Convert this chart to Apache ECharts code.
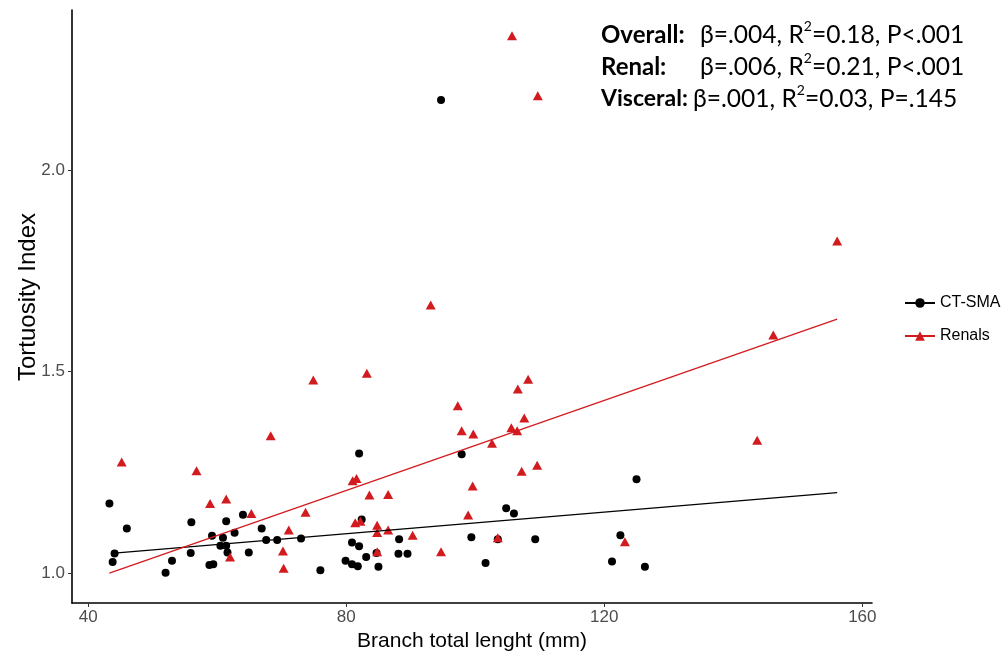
<!DOCTYPE html>
<html>
<head>
<meta charset="utf-8">
<script src="https://cdn.jsdelivr.net/npm/echarts@6/dist/echarts.min.js"></script>
<style>
  html, body { margin: 0; padding: 0; background: #fff; }
  #chart { width: 1006px; height: 656px; }
</style>
</head>
<body>
<div id="chart"></div>
<script>
// CT-SMA points (branch length mm, tortuosity index)
const smaX = [43.3, 46.0, 44.1, 43.8, 52.0, 53.0, 56.0, 55.9, 58.8, 59.4, 59.2, 60.9, 60.5, 61.4, 61.4, 61.6, 62.7,
  64.0, 64.9, 66.9, 67.6, 69.3, 73.0, 76.0, 79.9, 80.9, 80.9, 81.8, 82.0, 82.0, 82.4, 83.1, 84.7, 85.0, 88.2,
  88.1, 89.5, 94.7, 97.9, 99.4, 101.6, 103.5, 104.8, 106.0, 109.3, 121.2, 122.5, 125.0, 126.3];
const smaY = [1.173, 1.111, 1.049, 1.028, 1.001, 1.031, 1.126, 1.050, 1.020, 1.022, 1.093, 1.088, 1.068, 1.129, 1.068,
  1.051, 1.100, 1.145, 1.051, 1.111, 1.082, 1.082, 1.086, 1.007, 1.031, 1.076, 1.022, 1.017, 1.067, 1.297, 1.133,
  1.040, 1.050, 1.016, 1.084, 1.048, 1.048, 2.174, 1.295, 1.089, 1.025, 1.084, 1.161, 1.148, 1.084, 1.029, 1.094,
  1.233, 1.016];

// Renal points
const renalX = [45.2, 56.8, 58.9, 61.4, 62.0, 65.3, 68.3, 70.2, 70.3, 71.1, 73.7, 74.9, 81.0, 81.6, 81.4, 82.2, 83.2,
  83.6, 84.8, 84.8, 84.8, 86.5, 86.5, 90.3, 93.1, 94.7, 97.3, 97.9, 99.7, 99.6, 98.9, 102.6, 105.7, 103.5, 105.6,
  106.5, 106.6, 107.6, 108.2, 107.2, 109.6, 109.7, 123.2, 143.7, 146.2, 156.1];
const renalY = [1.276, 1.254, 1.173, 1.184, 1.040, 1.148, 1.341, 1.055, 1.012, 1.107, 1.151, 1.479, 1.229, 1.235, 1.125,
  1.129, 1.496, 1.194, 1.119, 1.101, 1.053, 1.195, 1.107, 1.094, 1.665, 1.053, 1.415, 1.353, 1.345, 1.216, 1.144,
  1.322, 2.333, 1.088, 1.361, 1.353, 1.457, 1.385, 1.481, 1.253, 1.268, 2.184, 1.078, 1.330, 1.591, 1.824];

// fitted lines, end points
const smaFitX = [43.6, 156.1];
const smaFitY = [1.049, 1.200];
const renalFitX = [43.3, 156.1];
const renalFitY = [1.000, 1.630];

const xTicks = [40, 80, 120, 160];
const yTicks = [1.0, 1.5, 2.0];

const RED = '#D21B1F';
const FONT = 'Liberation Sans';

const pairs = (xs, ys) => xs.map((x, i) => [x, ys[i]]);

const supRich = { s: { fontSize: 14, fontFamily: 'Lato', verticalAlign: 'top', lineHeight: 18 } };

const chart = echarts.init(document.getElementById('chart'));
chart.setOption({
  animation: false,
  backgroundColor: '#fff',
  grid: { left: 72, right: 134, top: 10, bottom: 53, outerBoundsMode: 'none' },
  legend: {
    orient: 'vertical',
    left: 899,
    top: 290,
    itemWidth: 30,
    itemHeight: 12,
    itemGap: 17,
    data: ['CT-SMA', 'Renals'],
    textStyle: { fontFamily: FONT, fontSize: 16, color: '#000' }
  },
  xAxis: {
    type: 'value',
    min: 37.5,
    max: 161.5,
    name: 'Branch total lenght (mm)',
    nameLocation: 'middle',
    nameGap: 24,
    nameTextStyle: { fontFamily: FONT, fontSize: 21, color: '#000' },
    splitLine: { show: false },
    axisLine: { lineStyle: { color: '#000', width: 1.6 } },
    axisTick: { length: 4, lineStyle: { color: '#333' }, customValues: xTicks },
    axisLabel: { fontFamily: FONT, fontSize: 17, color: '#4D4D4D', margin: 6, customValues: xTicks }
  },
  yAxis: {
    type: 'value',
    min: 0.926,
    max: 2.397,
    splitLine: { show: false },
    axisLine: { show: true, lineStyle: { color: '#000', width: 1.6 } },
    axisTick: { show: true, length: 4, lineStyle: { color: '#333' }, customValues: yTicks },
    axisLabel: {
      fontFamily: FONT, fontSize: 17, color: '#4D4D4D', margin: 7, customValues: yTicks,
      formatter: v => v.toFixed(1)
    }
  },
  graphic: [
    {
      // y axis title
      type: 'text', x: 28, y: 297, rotation: Math.PI / 2,
      style: { text: 'Tortuosity Index', font: '24px "Liberation Sans"', fill: '#000', align: 'center', verticalAlign: 'middle' }
    },
    { type: 'text', left: 601, top: 23, style: { text: 'Overall:', font: 'bold 24px Lato', fill: '#000' } },
    { type: 'text', left: 601, top: 55, style: { text: 'Renal:', font: 'bold 24px Lato', fill: '#000' } },
    { type: 'text', left: 601, top: 87, style: { text: 'Visceral:', font: 'bold 23px Lato', fill: '#000' } },
    {
      type: 'text', left: 700, top: 19,
      style: { text: 'β=.004, R{s|2}=0.18, P<.001', font: '24.6px Lato', fill: '#000', lineHeight: 32, rich: supRich }
    },
    {
      type: 'text', left: 700, top: 51,
      style: { text: 'β=.006, R{s|2}=0.21, P<.001', font: '24.6px Lato', fill: '#000', lineHeight: 32, rich: supRich }
    },
    {
      type: 'text', left: 693, top: 83,
      style: { text: 'β=.001, R{s|2}=0.03, P=.145', font: '24.6px Lato', fill: '#000', lineHeight: 32, rich: supRich }
    }
  ],
  series: [
    {
      name: 'CT-SMA', type: 'line', data: pairs(smaFitX, smaFitY),
      symbol: 'circle', symbolSize: 8, showSymbol: false, silent: true,
      lineStyle: { color: '#000', width: 1.3 }, itemStyle: { color: '#000' }, z: 3
    },
    {
      name: 'Renals', type: 'line', data: pairs(renalFitX, renalFitY),
      symbol: 'triangle', symbolSize: 10, showSymbol: false, silent: true,
      lineStyle: { color: RED, width: 1.3 }, itemStyle: { color: RED }, z: 3
    },
    {
      name: 'CT-SMA', type: 'scatter', data: pairs(smaX, smaY),
      symbol: 'circle', symbolSize: 8, itemStyle: { color: '#000', opacity: 1 }, z: 2
    },
    {
      name: 'Renals', type: 'scatter', data: pairs(renalX, renalY),
      symbol: 'triangle', symbolSize: [10, 9], itemStyle: { color: RED, opacity: 1 }, z: 2
    }
  ]
});
</script>
</body>
</html>
